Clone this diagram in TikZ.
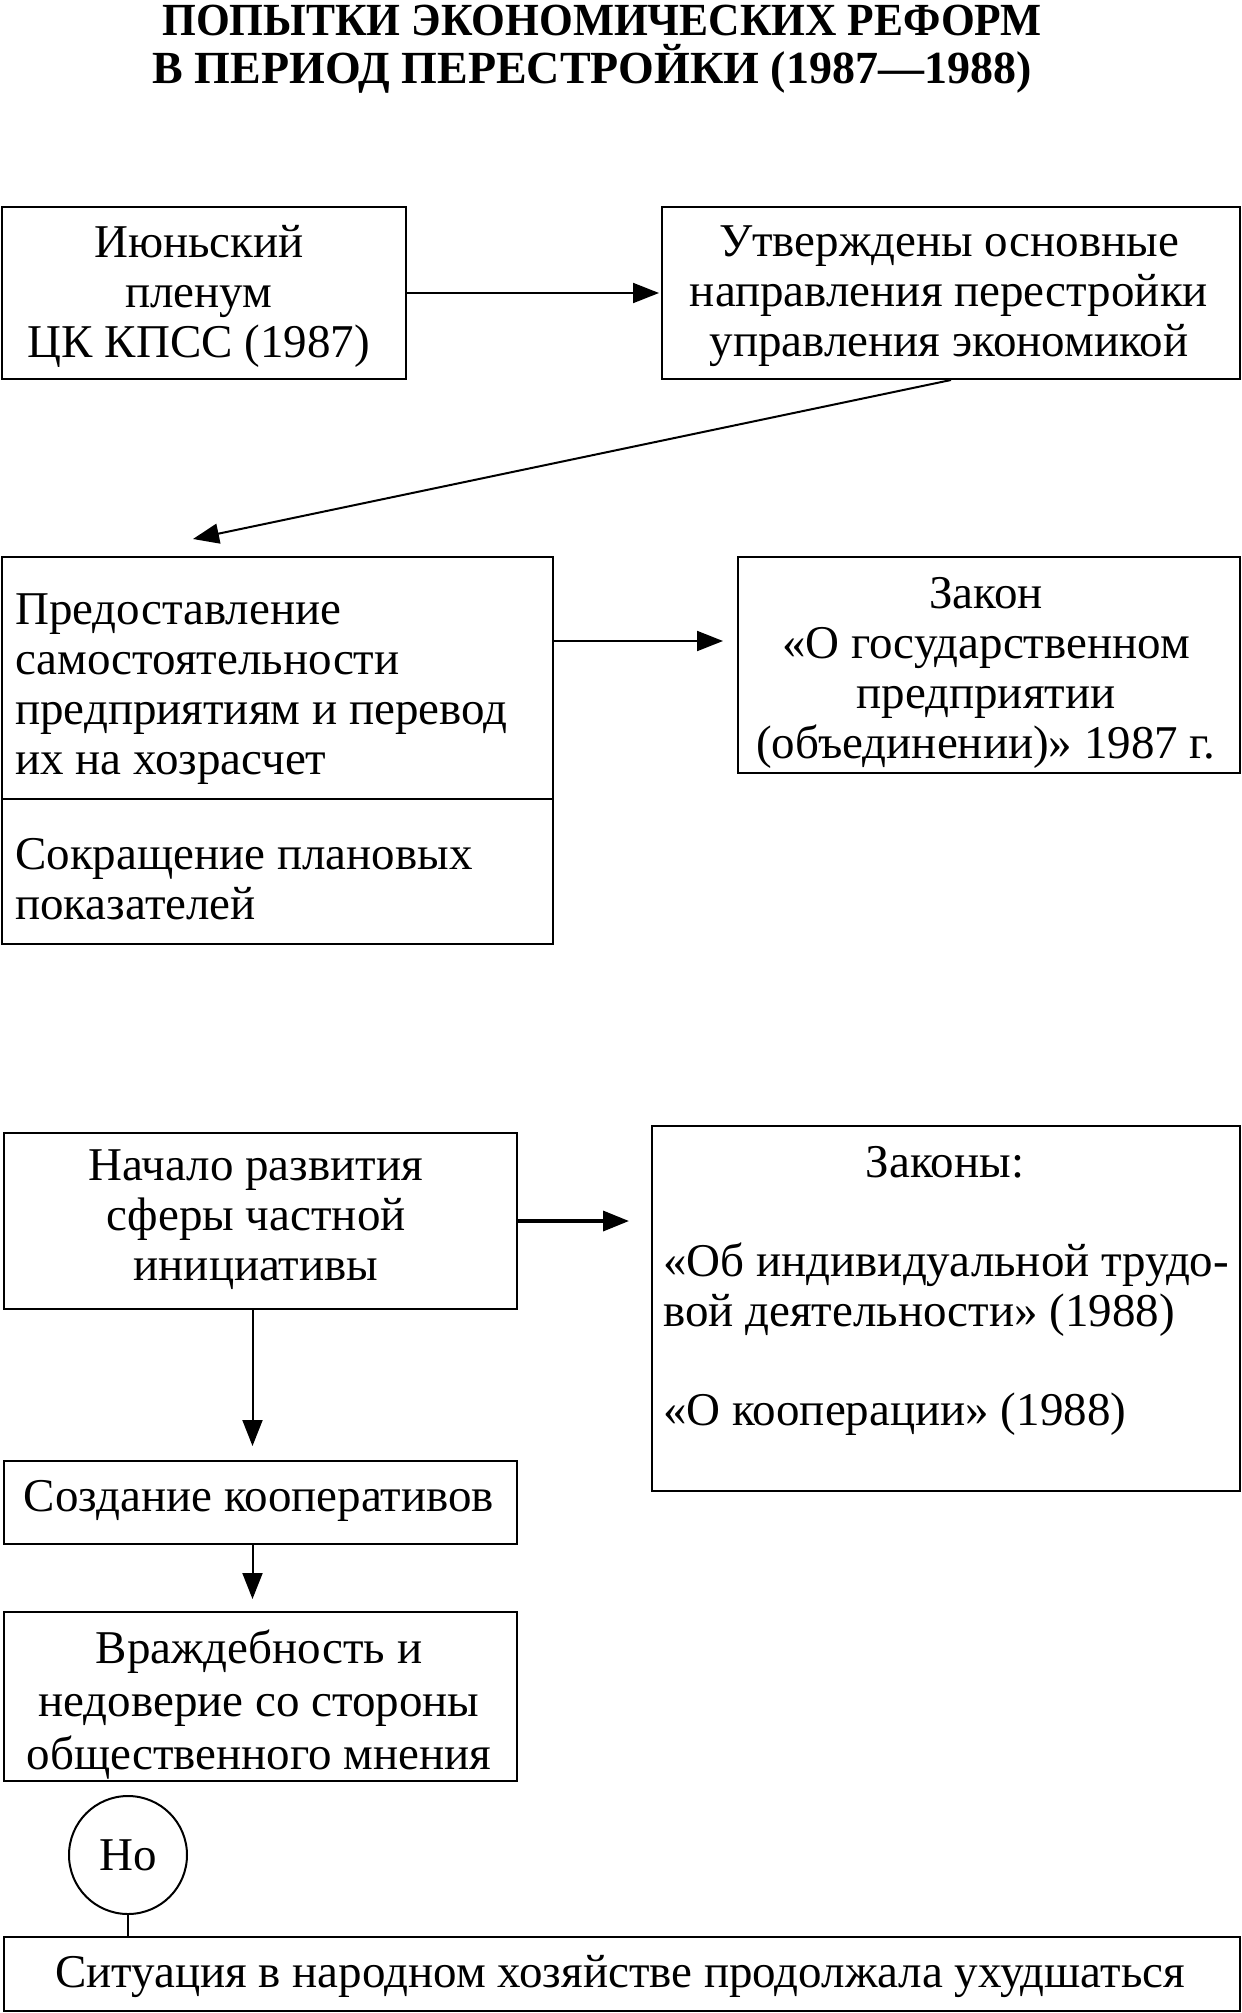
\documentclass[tikz,border=0pt]{standalone}
\usepackage{fontspec}
\setmainfont{Liberation Serif}
\usetikzlibrary{arrows.meta,calc}
\begin{document}
\begin{tikzpicture}[x=1pt,y=-1pt,
  box/.style={draw,line width=2pt,inner sep=0pt,anchor=north west},
  arr/.style={line width=2pt,-{Triangle[length=26pt,width=20pt]}},
  txt/.style={inner sep=0pt,align=center,font=\fontsize{47}{50}\selectfont},
  ltxt/.style={inner sep=0pt,align=left,anchor=west,font=\fontsize{47}{50}\selectfont},
  title/.style={inner sep=0pt,anchor=base,font=\bfseries\fontsize{46}{49}\selectfont}
]
\useasboundingbox (0,0) rectangle (1242,2013);
\node[title] (t1) at (602,35) {\scalebox{0.945}[1]{ПОПЫТКИ ЭКОНОМИЧЕСКИХ РЕФОРМ}};
\node[title] (t2) at (592,83) {В ПЕРИОД ПЕРЕСТРОЙКИ (1987---1988)};

\node[box,minimum width=404pt,minimum height=172pt] (A) at (1,206) {};
\node[txt] (At) at (199,296) {Июньский\\пленум\\ЦК КПСС (1987)};
\node[box,minimum width=578pt,minimum height=172pt] (B) at (661,206) {};
\node[txt] (Bt) at (949,296) {Утверждены основные\\направления перестройки\\управления экономикой};
\node[box,minimum width=551pt,minimum height=242pt] (C1) at (1,556) {};
\node[ltxt] (C1t) at (15,689) {Предоставление\\самостоятельности\\предприятиям и перевод\\их на хозрасчет};
\node[box,minimum width=551pt,minimum height=145pt] (C2) at (1,798) {};
\node[ltxt] (C2t) at (15,879) {Сокращение плановых\\показателей};
\node[box,minimum width=502pt,minimum height=216pt] (D) at (737,556) {};
\node[txt] (Dt) at (986,673) {Закон\\«О государственном\\предприятии\\(объединении)» 1987~г.};
\node[box,minimum width=513pt,minimum height=176pt] (E) at (3,1132) {};
\node[txt] (Et) at (256,1220) {Начало развития\\сферы частной\\инициативы};
\node[box,minimum width=588pt,minimum height=365pt] (F) at (651,1125) {};
\node[txt] (f0) at (945,1162) {Законы:};
\node[ltxt] (f1) at (663,1290) {«Об индивидуальной трудо-\\вой деятельности» (1988)};
\node[ltxt] (f3) at (663,1414) {«О кооперации» (1988)};
\node[box,minimum width=513pt,minimum height=83pt] (G) at (3,1460) {};
\node[txt] (Gt) at (259,1501) {Создание кооперативов};
\node[box,minimum width=513pt,minimum height=169pt] (H) at (3,1611) {};
\node[txt,font=\fontsize{47}{53}\selectfont] (Ht) at (259,1705) {Враждебность и\\недоверие со стороны\\общественного мнения};
\node[draw,circle,line width=2pt,minimum size=118pt,inner sep=0pt,font=\fontsize{47}{50}\selectfont] (No) at (128,1855) {Но};
\node[box,minimum width=1236pt,minimum height=74pt] (I) at (3,1936) {};
\node[txt] (It) at (620,1976) {Ситуация в народном хозяйстве продолжала ухудшаться};

\coordinate (cd) at (0,641);
\coordinate (diag) at (193,539);
\draw[arr,shorten >=2pt] (A.east) -- (B.west);
\draw[arr] (B.south) -- (diag);
\draw[arr,shorten >=14pt] (C1.east |- cd) -- (D.west |- cd);
\draw[arr,line width=3.5pt,shorten >=22pt] (E.east) -- (F.west |- E.east);
\draw[arr,shorten >=14pt] ([xshift=-8pt]E.south) -- ([xshift=-8pt]G.north);
\draw[arr,shorten >=12pt] ([xshift=-8pt]G.south) -- ([xshift=-8pt]H.north);
\draw[line width=2pt] (No.south) -- (I.north -| No.south);
\end{tikzpicture}
\end{document}
